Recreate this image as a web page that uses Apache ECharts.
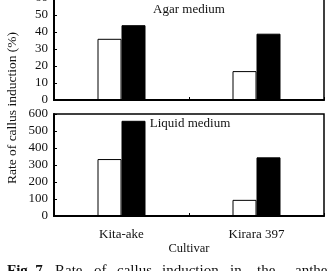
<!DOCTYPE html>
<html>
<head>
<meta charset="utf-8">
<script src="https://cdn.jsdelivr.net/npm/echarts@6/dist/echarts.min.js"></script>
<style>
  html, body { margin: 0; padding: 0; background: #fff; }
  #main { width: 328px; height: 271px; }
</style>
</head>
<body>
<div id="main"></div>
<script>
var cultivars = ['Kita-ake', 'Kirara 397']
// top panel (agar), bottom panel (liquid); white / black bars
var agarWhite = [36, 17]
var agarBlack = [44, 39]
var liquidWhite = [335, 95]
var liquidBlack = [560, 345]
var captionWords = ['Fig. 7.', 'Rate', 'of', 'callus', 'induction', 'in', 'the', 'anthers']

var font = 'Liberation Serif'
var chart = echarts.init(document.getElementById('main'), null, { renderer: 'canvas' })

var grids = [
  { left: 54, right: 4, top: -2, height: 102, show: true, borderColor: '#000', borderWidth: 1.5, outerBoundsMode: 'none', containLabel: false },
  { left: 54, right: 4, top: 114, height: 102, show: true, borderColor: '#000', borderWidth: 1.5, outerBoundsMode: 'none', containLabel: false }
]

function xAx(idx, showLabel) {
  return {
    type: 'category', gridIndex: idx, data: cultivars,
    axisLine: { lineStyle: { color: '#000', width: 2 } },
    axisTick: { show: true, inside: true, length: 3, lineStyle: { color: '#000' } },
    axisLabel: { show: showLabel, color: '#111', fontFamily: font, fontSize: 13, margin: 12 },
    name: showLabel ? 'Cultivar' : '', nameLocation: 'middle', nameGap: 23,
    nameTextStyle: { color: '#111', fontFamily: font, fontSize: 12.5 }
  }
}
function yAx(idx, max, interval) {
  return {
    type: 'value', gridIndex: idx, min: 0, max: max, interval: interval,
    splitLine: { show: false },
    axisLine: { show: true, lineStyle: { color: '#000', width: 2 } },
    axisTick: { show: true, inside: true, length: 3, lineStyle: { color: '#000' } },
    axisLabel: { color: '#111', fontFamily: font, fontSize: 13, margin: 6 }
  }
}

var whiteStyle = { color: '#fff', borderColor: '#000', borderWidth: 1 }
var blackStyle = { color: '#000', borderColor: '#000', borderWidth: 1 }

var option = {
  backgroundColor: '#fff',
  animation: false,
  grid: grids,
  xAxis: [xAx(0, false), xAx(1, true)],
  yAxis: [yAx(0, 60, 10), yAx(1, 600, 100)],
  series: [
    { type: 'bar', xAxisIndex: 0, yAxisIndex: 0, data: agarWhite, barWidth: 24, barGap: '0%', itemStyle: whiteStyle },
    { type: 'bar', xAxisIndex: 0, yAxisIndex: 0, data: agarBlack, barWidth: 24, barGap: '0%', itemStyle: blackStyle },
    { type: 'bar', xAxisIndex: 1, yAxisIndex: 1, data: liquidWhite, barWidth: 24, barGap: '0%', itemStyle: whiteStyle },
    { type: 'bar', xAxisIndex: 1, yAxisIndex: 1, data: liquidBlack, barWidth: 24, barGap: '0%', itemStyle: blackStyle }
  ],
  graphic: [
    { type: 'text', x: 189, y: 10, style: { text: 'Agar medium', font: '13px ' + font, fill: '#111', textAlign: 'center', textVerticalAlign: 'middle' } },
    { type: 'text', x: 190, y: 124, style: { text: 'Liquid medium', font: '13px ' + font, fill: '#111', textAlign: 'center', textVerticalAlign: 'middle' } },
    { type: 'text', x: 12, y: 108, rotation: Math.PI / 2,
      style: { text: 'Rate of callus induction (%)', font: '13.5px ' + font, fill: '#111', textAlign: 'center', textVerticalAlign: 'middle' } }
  ]
}

// caption words spread across the width like the justified print line
var wordX = [7, 55, 94, 117, 162, 230, 257, 295]
captionWords.forEach(function (w, i) {
  option.graphic.push({
    type: 'text', x: wordX[i], y: 264,
    style: { text: w, font: (i === 0 ? 'bold ' : '') + '15px ' + font, fill: '#111' }
  })
})

chart.setOption(option)
</script>
</body>
</html>
